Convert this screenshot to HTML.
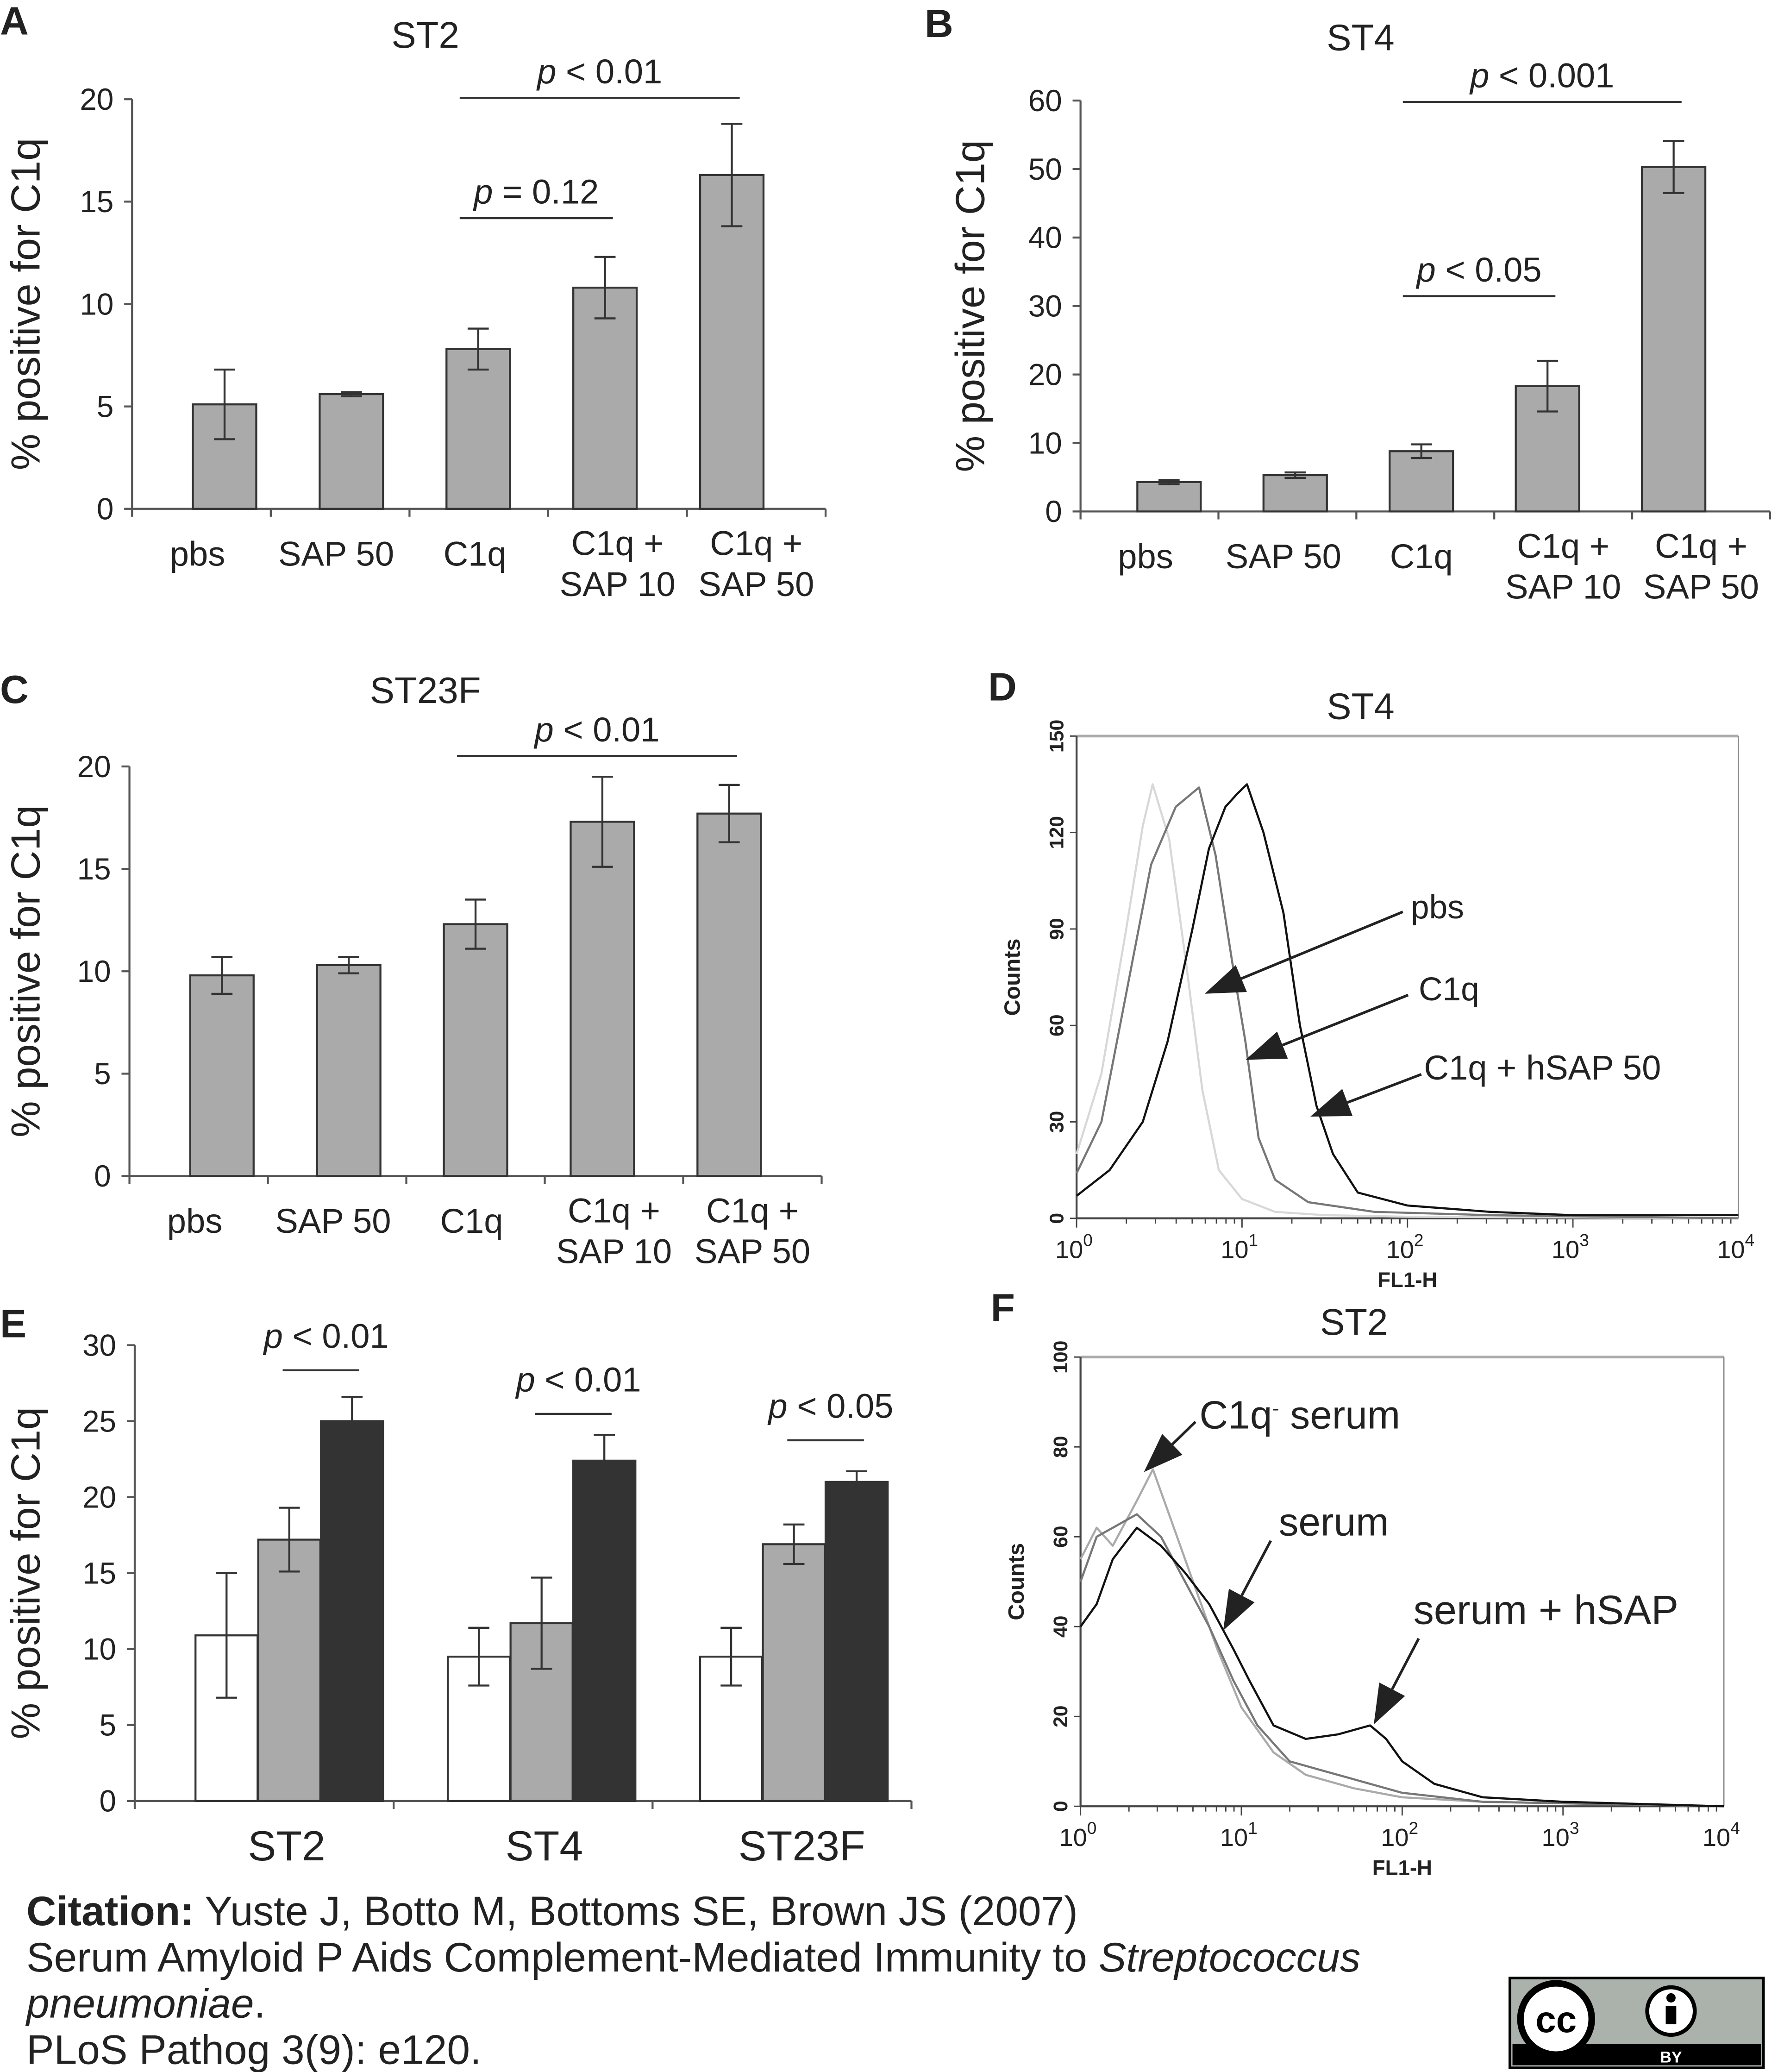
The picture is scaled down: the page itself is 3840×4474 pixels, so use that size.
<!DOCTYPE html>
<html><head><meta charset="utf-8"><style>
html,body{margin:0;padding:0;background:#fff;}
svg{display:block;font-family:"Liberation Sans",sans-serif;}
</style></head><body>
<svg id="fig" width="3840" height="4474" viewBox="0 0 1346 1568" xmlns="http://www.w3.org/2000/svg">
<g id="root"></g>
<g font-size="31.3" fill="#222">
<text x="20" y="1457"><tspan font-weight="bold">Citation:</tspan> Yuste J, Botto M, Bottoms SE, Brown JS (2007)</text>
<text x="20" y="1492">Serum Amyloid P Aids Complement-Mediated Immunity to <tspan font-style="italic">Streptococcus</tspan></text>
<text x="20" y="1527" font-style="italic">pneumoniae<tspan font-style="normal">.</tspan></text>
<text x="20" y="1562">PLoS Pathog 3(9): e120.</text>
</g>
<g>
<rect x="1143" y="1497" width="192" height="68" fill="#aab2ab" stroke="#000" stroke-width="2"/>
<rect x="1145" y="1547" width="188" height="16" fill="#000"/>
<circle cx="1178" cy="1528" r="27" fill="#fff" stroke="#000" stroke-width="5"/>
<text x="1178" y="1538" font-size="28" font-weight="bold" text-anchor="middle">cc</text>
<circle cx="1265" cy="1522" r="18" fill="#fff" stroke="#000" stroke-width="3"/>
<circle cx="1265" cy="1512" r="3.5" fill="#000"/><rect x="1261" y="1518" width="8" height="14" fill="#000"/>
<text x="1265" y="1561" font-size="12" fill="#fff" text-anchor="middle" font-weight="bold">BY</text>
</g>
</svg>
<script>
// ---------- data ----------
const barCats = ["pbs","SAP 50","C1q","C1q +|SAP 10","C1q +|SAP 50"];
const stA = [5.1,5.6,7.8,10.8,16.3];
const stAerr = [1.7,0.1,1.0,1.5,2.5];
const stB = [4.3,5.3,8.8,18.3,50.3];
const stBerr = [0.3,0.4,1.0,3.7,3.8];
const stC = [9.8,10.3,12.3,17.3,17.7];
const stCerr = [0.9,0.4,1.2,2.2,1.4];
const ticksA = [0,5,10,15,20];
const ticksB = [0,10,20,30,40,50,60];
const eGroups = ["ST2","ST4","ST23F"];
const eWhite = [10.9,9.5,9.5];
const eWhiteErr = [4.1,1.9,1.9];
const eGray = [17.2,11.7,16.9];
const eGrayErr = [2.1,3.0,1.3];
const eBlack = [25.0,22.4,21.0];
const eBlackErr = [1.6,1.7,0.7];
const ticksE = [0,5,10,15,20,25,30];
const dPbsX = [0,0.15,0.3,0.4,0.46,0.56,0.66,0.76,0.86,1.0,1.2,1.5,2,3,4];
const dPbsY = [20,45,90,122,135,118,80,40,15,6,2,1,0.5,0.3,0];
const dC1qX = [0,0.15,0.3,0.45,0.6,0.74,0.84,0.94,1.02,1.1,1.2,1.4,1.8,2.5,4];
const dC1qY = [14,30,70,110,128,134,113,80,55,25,12,5,2,1,0];
const dSapX = [0,0.2,0.4,0.55,0.7,0.8,0.9,0.97,1.03,1.13,1.25,1.35,1.45,1.55,1.7,2.0,2.5,3,4];
const dSapY = [7,15,30,55,90,115,128,132,135,120,95,60,35,20,8,4,2,1,1];
const dTicks = [0,30,60,90,120,150];
const fC1qX = [0,0.1,0.2,0.35,0.45,0.55,0.7,0.85,1.0,1.2,1.4,1.7,2,2.5,4];
const fC1qY = [55,62,58,68,75,65,50,35,22,12,7,4,2,1,0];
const fSerX = [0,0.1,0.2,0.35,0.5,0.65,0.8,0.95,1.1,1.3,1.5,1.7,2,2.5,4];
const fSerY = [50,60,62,65,60,50,40,28,18,10,8,6,3,1,0];
const fSapX = [0,0.1,0.2,0.35,0.5,0.65,0.8,0.95,1.05,1.2,1.4,1.6,1.8,1.9,2.0,2.2,2.5,3,4];
const fSapY = [40,45,55,62,58,52,45,35,28,18,15,16,18,15,10,5,2,1,0];
const fTicks = [0,20,40,60,80,100];

const NS="http://www.w3.org/2000/svg";
const root=document.getElementById('root');
function mk(tag,attrs,parent,txt){const e=document.createElementNS(NS,tag);for(const k in attrs)e.setAttribute(k,attrs[k]);if(txt!==undefined)e.textContent=txt;(parent||root).appendChild(e);return e;}
function grp(name){const g=mk('g',{});


return g;}
function txt(p,x,y,s,str,anchor,extra){return mk('text',Object.assign({x:x,y:y,'font-size':s,fill:'#222','text-anchor':anchor||'middle'},extra||{}),p,str);}
function pLabel(p,x,y,op,val){const t=txt(p,x,y,26,'');mk('tspan',{'font-style':'italic'},t,'p');mk('tspan',{},t,' '+op+' '+val);


}

function barPanel(o){
  const g=grp(o.name);
  const ys=v=>o.y0-(v/o.max)*(o.y0-o.yTop);
  const xc=i=>o.ax+o.off+i*o.step;
  const n=o.vals.length, band=(o.axEnd-o.ax)/n;
  const xl=i=>o.ax+band*(i+0.5);
  txt(g,o.lx,o.ly,30,o.letter,'start',{'font-weight':'bold'});
  txt(g,o.tx,o.ty,28,o.title);
  const yt=txt(g,0,0,31,'% positive for C1q','middle',{transform:`translate(${o.ytx},${(o.y0+o.yTop)/2}) rotate(-90)`});
  
  mk('line',{x1:o.ax,y1:o.yTop,x2:o.ax,y2:o.y0,stroke:'#555','stroke-width':1.5},g);
  mk('line',{x1:o.ax,y1:o.y0,x2:o.axEnd,y2:o.y0,stroke:'#555','stroke-width':1.5},g);
  o.ticks.forEach(t=>{mk('line',{x1:o.ax-6,y1:ys(t),x2:o.ax,y2:ys(t),stroke:'#555','stroke-width':1.5},g);
    const tl=txt(g,o.ax-14,ys(t)+8,23,String(t),'end');
    });
  for(let i=0;i<=n;i++){const x=o.ax+i*band;mk('line',{x1:x,y1:o.y0,x2:x,y2:o.y0+6,stroke:'#555','stroke-width':1.5},g);}
  o.vals.forEach((v,i)=>{
    const cx=xc(i), w=48;
    const r=mk('rect',{x:cx-w/2,y:ys(v),width:w,height:o.y0-ys(v),fill:'#aaa',stroke:'#333','stroke-width':1.5},g);
    
    
    const e=o.errs[i];
    mk('path',{d:`M${cx},${ys(v+e)}V${ys(v-e)}M${cx-8},${ys(v+e)}H${cx+8}M${cx-8},${ys(v-e)}H${cx+8}`,stroke:'#333','stroke-width':1.5,fill:'none'},g);
    const parts=barCats[i].split('|');
    parts.forEach((pp,j)=>{const l=txt(g,xl(i)+(parts.length==1?-3:0),o.y0+(parts.length==1?43:35)+j*31,26,pp);
      });
  });
  o.sig.forEach(s=>{const a=xc(s[0])-14,b=xc(s[1])+6;
    mk('line',{x1:a,y1:s[2],x2:b,y2:s[2],stroke:'#333','stroke-width':1.5},g);
    pLabel(g,(a+b)/2,s[2]-11,s[3],s[4]);});
}
barPanel({name:'panel-a-st2',letter:'A',lx:0,ly:26,title:'ST2',tx:322,ty:36,ax:100,axEnd:625,off:70,step:96,y0:385,yTop:75,max:20,vals:stA,errs:stAerr,ticks:ticksA,ytx:30,sig:[[2,4,74,'<','0.01'],[2,3,165,'=','0.12']]});
barPanel({name:'panel-b-st4',letter:'B',lx:700,ly:28,title:'ST4',tx:1030,ty:38,ax:818,axEnd:1340,off:67,step:95.5,y0:387,yTop:76,max:60,vals:stB,errs:stBerr,ticks:ticksB,ytx:745,sig:[[2,4,77,'<','0.001'],[2,3,224,'<','0.05']]});
barPanel({name:'panel-c-st23f',letter:'C',lx:0,ly:532,title:'ST23F',tx:322,ty:532,ax:98,axEnd:622,off:70,step:96,y0:890,yTop:580,max:20,vals:stC,errs:stCerr,ticks:ticksA,ytx:30,sig:[[2,4,572,'<','0.01']]});

// Panel E
(function(){
  const g=grp('panel-e-grouped');
  const ax=102,y0=1363,yTop=1018,max=30,axEnd=690,off=117,step=191,labStep=195;
  const ys=v=>y0-(v/max)*(y0-yTop);
  txt(g,0,1012,30,'E','start',{'font-weight':'bold'});
  const yt=txt(g,0,0,31,'% positive for C1q','middle',{transform:`translate(30,${(y0+yTop)/2}) rotate(-90)`});
  
  mk('line',{x1:ax,y1:yTop,x2:ax,y2:y0,stroke:'#555','stroke-width':1.5},g);
  mk('line',{x1:ax,y1:y0,x2:axEnd,y2:y0,stroke:'#555','stroke-width':1.5},g);
  ticksE.forEach(t=>{mk('line',{x1:ax-6,y1:ys(t),x2:ax,y2:ys(t),stroke:'#555','stroke-width':1.5},g);
    const tl=txt(g,ax-14,ys(t)+8,23,String(t),'end');});
  for(let i=0;i<=3;i++){const x=ax+i*(axEnd-ax)/3;mk('line',{x1:x,y1:y0,x2:x,y2:y0+6,stroke:'#555','stroke-width':1.5},g);}
  const series=[[eWhite,eWhiteErr,'#fff'],[eGray,eGrayErr,'#aaa'],[eBlack,eBlackErr,'#333']];
  const sig=[[1037,'0.01'],[1070,'0.01'],[1090,'0.05']];
  eGroups.forEach((gn,i)=>{
    const c=ax+off+i*step;
    series.forEach((s,k)=>{const x=c-71+k*47.5,v=s[0][i],e=s[1][i];
      const r=mk('rect',{x:x,y:ys(v),width:47,height:y0-ys(v),fill:s[2],stroke:'#333','stroke-width':1.5},g);
      
      
      const cx=x+23.5;
      mk('path',{d:`M${cx},${ys(v+e)}V${ys(v-e)}M${cx-8},${ys(v+e)}H${cx+8}M${cx-8},${ys(v-e)}H${cx+8}`,stroke:'#333','stroke-width':1.5,fill:'none'},g);});
    const l=txt(g,ax+off-2+i*labStep,y0+45,32,gn);
    mk('line',{x1:c-5,y1:sig[i][0],x2:c+53,y2:sig[i][0],stroke:'#333','stroke-width':1.5},g);
    pLabel(g,c+28,sig[i][0]-17,'<',sig[i][1]);
  });
})();

// Histograms
function histPanel(o){
  const g=grp(o.name);
  const xs=l=>o.x0+l*(o.x1-o.x0)/4, ys=v=>o.y0-(v/o.max)*(o.y0-o.yTop);
  txt(g,o.lx,o.ly,30,o.letter,'start',{'font-weight':'bold'});
  txt(g,o.tx,o.ty,28,o.title);
  mk('line',{x1:o.x0,y1:o.yTop,x2:o.x1,y2:o.yTop,stroke:'#aaa','stroke-width':2},g);
  mk('line',{x1:o.x1,y1:o.yTop,x2:o.x1,y2:o.y0,stroke:'#888','stroke-width':1},g);
  mk('line',{x1:o.x0,y1:o.yTop,x2:o.x0,y2:o.y0,stroke:'#444','stroke-width':1.5},g);
  mk('line',{x1:o.x0,y1:o.y0,x2:o.x1,y2:o.y0,stroke:'#444','stroke-width':1.5},g);
  o.ticks.forEach(t=>{mk('line',{x1:o.x0-5,y1:ys(t),x2:o.x0,y2:ys(t),stroke:'#444'},g);
    const tl=txt(g,0,0,15,String(t),'middle',{transform:`translate(${o.x0-10},${ys(t)}) rotate(-90)`,'font-weight':'bold'});
    });
  for(let d=0;d<4;d++)for(let m=1;m<10;m++){const x=xs(d+Math.log10(m));mk('line',{x1:x,y1:o.y0,x2:x,y2:o.y0+(m==1?7:4),stroke:'#444'},g);}
  for(let d=0;d<=4;d++){const t=txt(g,xs(d)-2,o.y0+30,19,'10');mk('tspan',{dy:-9,'font-size':13},t,String(d));}
  const c=txt(g,0,0,17,'Counts','middle',{transform:`translate(${o.x0-43},${(o.y0+o.yTop)/2}) rotate(-90)`,'font-weight':'bold'});
  
  const xl=txt(g,(o.x0+o.x1)/2,o.y0+52,16,'FL1-H','middle',{'font-weight':'bold'});
  
  o.series.forEach(s=>{
    const d=s[0].map((l,i)=>(i?'L':'M')+xs(l).toFixed(1)+','+ys(s[1][i]).toFixed(1)).join('');
    const p=mk('path',{d:d,fill:'none',stroke:s[2],'stroke-width':1.6,'stroke-linejoin':'round'},g);
    
    
  });
  o.arrows.forEach(a=>{
    const [tx,ty,x1,y1,x2,y2,lab,fs]=a;
    const l=txt(g,tx,ty,fs,'','start');
    if(lab==='C1q- serum'){mk('tspan',{},l,'C1q');mk('tspan',{dy:-10,'font-size':16},l,'-');mk('tspan',{dy:10},l,' serum');}else l.textContent=lab;
    
    const ang=Math.atan2(y2-y1,x2-x1),L=30,W=11;
    const bx=x2-L*Math.cos(ang),by=y2-L*Math.sin(ang);
    mk('line',{x1:x1,y1:y1,x2:bx,y2:by,stroke:'#222','stroke-width':2},g);
    mk('polygon',{points:`${x2},${y2} ${bx+W*Math.sin(ang)},${by-W*Math.cos(ang)} ${bx-W*Math.sin(ang)},${by+W*Math.cos(ang)}`,fill:'#222'},g);
  });
}
histPanel({name:'panel-d-histogram',letter:'D',lx:748,ly:530,title:'ST4',tx:1030,ty:544,x0:815,x1:1316,y0:922,yTop:557,max:150,ticks:dTicks,
  series:[[dPbsX,dPbsY,'#d8d8d8','pbs-curve'],[dC1qX,dC1qY,'#777','c1q-curve'],[dSapX,dSapY,'#111','c1q-hsap-curve']],
  arrows:[[1068,695,1062,690,912,752,'pbs',25],[1074,757,1066,753,943,802,'C1q',25],[1078,817,1076,813,992,845,'C1q + hSAP 50',26]]});
histPanel({name:'panel-f-histogram',letter:'F',lx:750,ly:1000,title:'ST2',tx:1025,ty:1010,x0:818,x1:1305,y0:1367,yTop:1027,max:100,ticks:fTicks,
  series:[[fC1qX,fC1qY,'#aaa','c1q-depleted-serum-curve'],[fSerX,fSerY,'#777','serum-curve'],[fSapX,fSapY,'#111','serum-hsap-curve']],
  arrows:[[908,1081,905,1076,866,1114,'C1q- serum',30],[968,1162,962,1166,926,1234,'serum',30],[1070,1229,1074,1240,1040,1305,'serum + hSAP',31]]});
</script>
</body></html>
